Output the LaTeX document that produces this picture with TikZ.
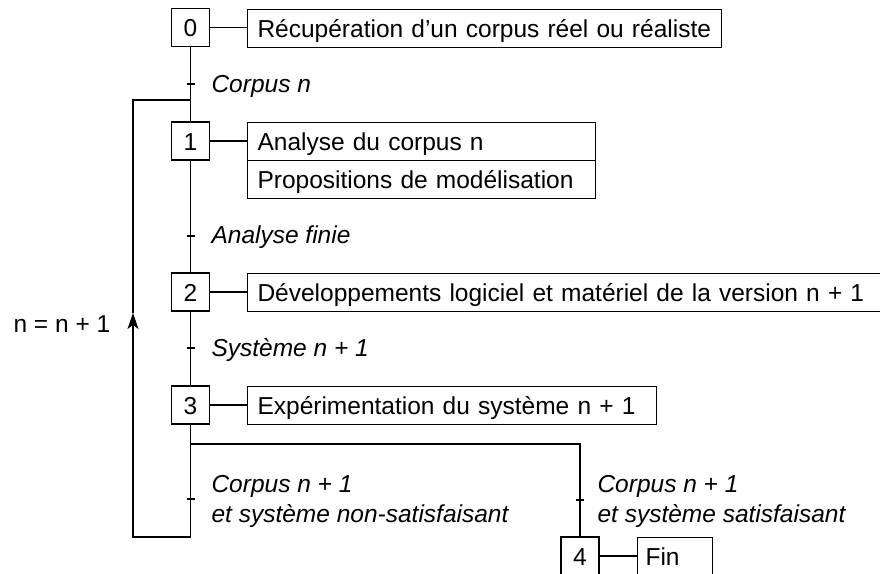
\documentclass[tikz,border=0pt]{standalone}
\usepackage{fontspec}
\setmainfont{Liberation Sans}
\usetikzlibrary{arrows.meta}
\begin{document}
\begin{tikzpicture}[x=1pt,y=-1pt, line width=1.1pt,
  txt/.style={font=\fontsize{24.5}{30}\selectfont},
  stepbox/.style={txt, draw, minimum width=38pt, minimum height=38pt, inner sep=0pt, text height=21pt, text depth=3pt},
  actbox/.style={txt, draw, anchor=north west, minimum height=38pt, inner ysep=0pt, inner xsep=10pt, align=left, text height=21pt, text depth=3pt},
  lbl/.style={font=\fontsize{24.5}{30}\selectfont\itshape, anchor=base west, inner sep=0pt, align=left},
  tickmark/.style={line width=1.1pt},
  uparrow/.style={-{Stealth[length=16pt,width=11pt,inset=4pt]}}
]
\clip (0,0) rectangle (880,573);
% steps
\node[stepbox] (s0) at (190.5,27.5) {0};
\node[stepbox] (s1) at (190.5,141) {1};
\node[stepbox] (s2) at (190.5,292) {2};
\node[stepbox] (s3) at (190.5,405) {3};
\node[stepbox] (s4) at (580,556) {4};
% actions
\node[actbox, text width=454pt] (a0) at (247,8.5) {Récupération d’un corpus réel ou réaliste};
\node[actbox, text width=328pt] (a1) at (247,122) {Analyse du corpus n};
\node[actbox, text width=328pt] (a1b) at (247,160) {Propositions de modélisation};
\node[actbox, text width=633pt] (a2) at (247,273) {Développements logiciel et matériel de la version n + 1};
\node[actbox, text width=389pt] (a3) at (247,386) {Expérimentation du système n + 1};
\node[actbox, text width=59pt, inner xsep=8pt] (a4) at (637,537) {Fin};
\draw (s0.east) -- (s0.east -| a0.west);
\draw (s1.east) -- (s1.east -| a1.west);
\draw (s2.east) -- (s2.east -| a2.west);
\draw (s3.east) -- (s3.east -| a3.west);
\draw (s4.east) -- (s4.east -| a4.west);
% main links
\coordinate (ljoin) at (190.5,100);
\draw (s0.south) -- (s1.north);
\draw (s1.south) -- (s2.north);
\draw (s2.south) -- (s3.north);
\coordinate (div) at (190.5,444);
\coordinate (divR) at (580,444);
\draw (s3.south) -- (div) -- (divR) -- (s4.north);
% loop
\coordinate (lb) at (190.5,537);
\coordinate (lc) at (133,537);
\coordinate (arrtip) at (133,313);
\coordinate (ltop) at (133,100);
\draw[uparrow] (div) -- (lb) -- (lc) -- (arrtip);
\draw (arrtip) -- (ltop) -- (ljoin);
% transitions
\coordinate (t0) at (190.5,84);
\coordinate (t1) at (190.5,236);
\coordinate (t2) at (190.5,348);
\coordinate (t3) at (190.5,499);
\coordinate (t4) at (580,500);
\foreach \t in {t0,t1,t2,t3,t4}
  \draw[tickmark] ([xshift=-4pt]\t) -- ([xshift=4pt]\t);
% labels
\node[lbl] (l0) at (211,92) {Corpus n};
\node[lbl] (l1) at (211,243) {Analyse finie};
\node[lbl] (l2) at (211,356) {Système n + 1};
\node[lbl] (l3) at (211,522) {Corpus n + 1\\et système non-satisfaisant};
\node[lbl] (l4) at (597,522) {Corpus n + 1\\et système satisfaisant};
\node[txt, anchor=base west, inner sep=0pt] (inc) at (13,332) {n = n + 1};
\end{tikzpicture}
\end{document}
